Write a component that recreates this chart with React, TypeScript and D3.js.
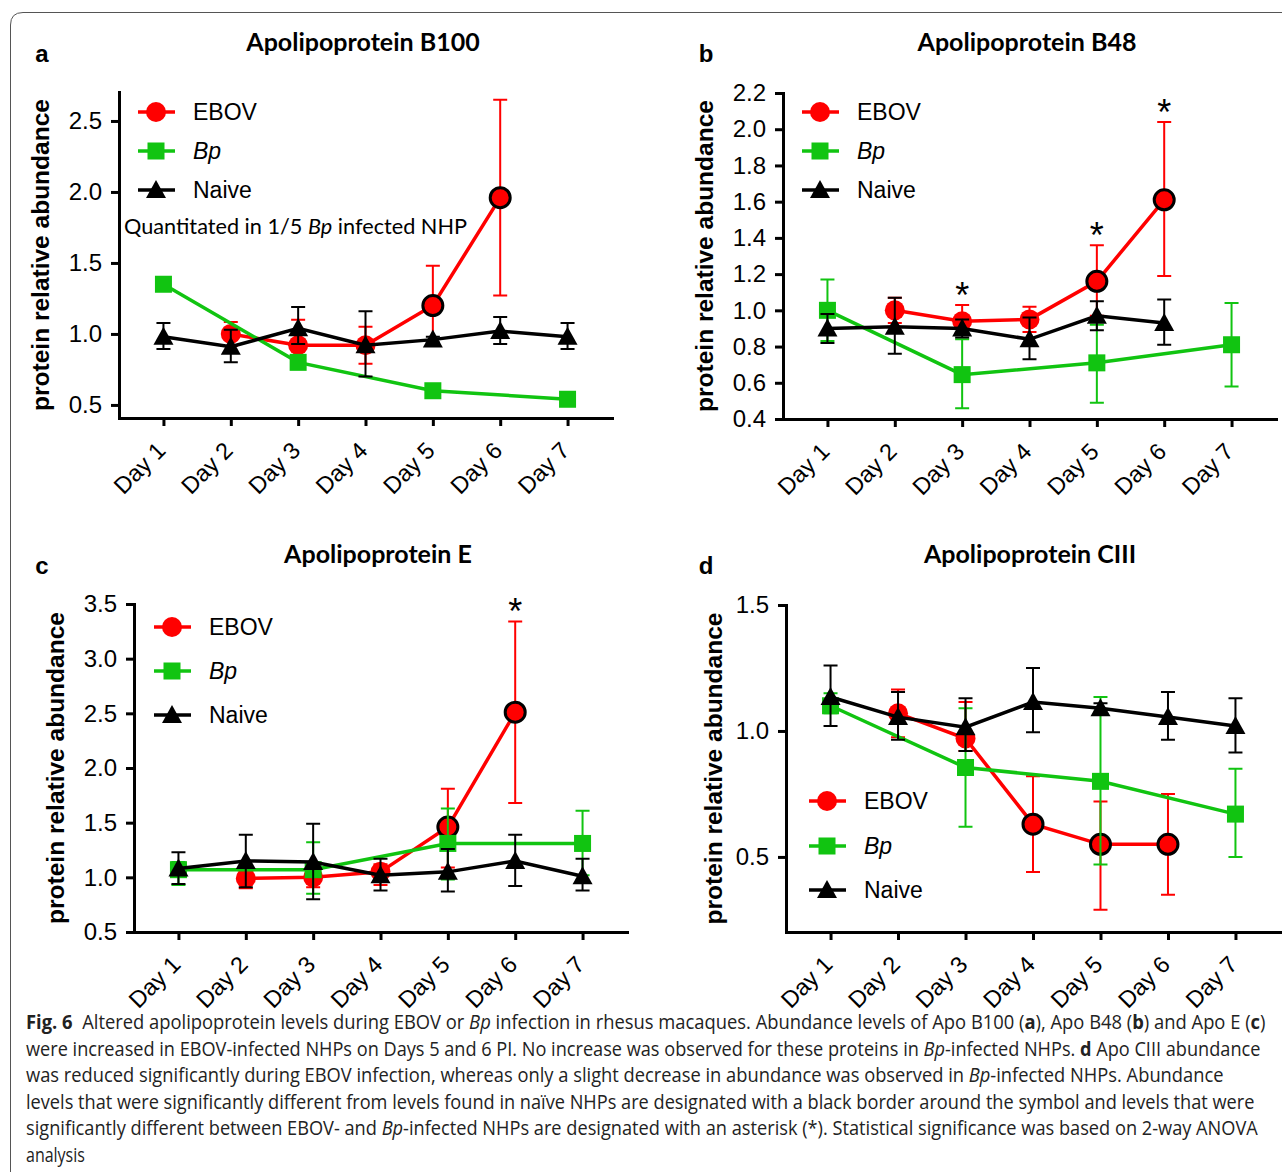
import React, { useEffect, useRef } from 'react';
import * as d3 from 'd3';

type V = number | null;

const days = ['Day 1', 'Day 2', 'Day 3', 'Day 4', 'Day 5', 'Day 6', 'Day 7'];
const seriesNames = ['EBOV', 'Bp', 'Naive'];

// Apolipoprotein B100
const b100Ebov: V[] = [null, 1.0, 0.92, 0.92, 1.2, 1.96, null];
const b100EbovHi: V[] = [null, 1.085, 1.1, 1.05, 1.48, 2.65, null];
const b100EbovLo: V[] = [null, 0.915, 0.9, 0.79, 0.92, 1.27, null];
const b100Bp: V[] = [1.35, null, 0.8, null, 0.6, null, 0.54];
const b100Naive: V[] = [0.98, 0.91, 1.04, 0.92, 0.96, 1.02, 0.98];
const b100NaiveHi: V[] = [1.077, 1.03, 1.19, 1.16, 0.98, 1.12, 1.077];
const b100NaiveLo: V[] = [0.894, 0.8, 0.93, 0.7, 0.94, 0.93, 0.894];
const b100Sig = [4, 5];
const b100Stars: number[] = [];

// Apolipoprotein B48
const b48Ebov: V[] = [null, 1.0, 0.94, 0.95, 1.16, 1.61, null];
const b48EbovHi: V[] = [null, 1.07, 1.03, 1.02, 1.36, 2.04, null];
const b48EbovLo: V[] = [null, 0.93, 0.87, 0.88, 0.97, 1.19, null];
const b48Bp: V[] = [1.0, null, 0.645, null, 0.71, null, 0.81];
const b48BpHi: V[] = [1.17, null, 0.84, null, 0.92, null, 1.04];
const b48BpLo: V[] = [0.83, null, 0.46, null, 0.49, null, 0.58];
const b48Naive: V[] = [0.9, 0.91, 0.9, 0.84, 0.97, 0.93, null];
const b48NaiveHi: V[] = [0.98, 1.07, 0.95, 0.96, 1.05, 1.06, null];
const b48NaiveLo: V[] = [0.82, 0.76, 0.85, 0.73, 0.89, 0.81, null];
const b48Sig = [4, 5];
const b48Stars = [2, 4, 5];

// Apolipoprotein E
const eEbov: V[] = [null, 0.99, 1.0, 1.05, 1.46, 2.51, null];
const eEbovHi: V[] = [null, 1.06, 1.08, 1.12, 1.81, 3.34, null];
const eEbovLo: V[] = [null, 0.9, 0.91, 0.93, 1.09, 1.68, null];
const eBp: V[] = [1.07, null, 1.07, null, 1.31, null, 1.31];
const eBpHi: V[] = [1.14, null, 1.32, null, 1.63, null, 1.61];
const eBpLo: V[] = [0.93, null, 0.85, null, 0.98, null, 1.02];
const eNaive: V[] = [1.08, 1.15, 1.14, 1.02, 1.05, 1.15, 1.01];
const eNaiveHi: V[] = [1.23, 1.39, 1.49, 1.17, 1.26, 1.39, 1.17];
const eNaiveLo: V[] = [0.94, 0.91, 0.8, 0.88, 0.87, 0.92, 0.88];
const eSig = [4, 5];
const eStars = [5];

// Apolipoprotein CIII
const c3Ebov: V[] = [null, 1.07, 0.97, 0.63, 0.55, 0.55, null];
const c3EbovHi: V[] = [null, 1.165, 1.115, 0.82, 0.72, 0.75, null];
const c3EbovLo: V[] = [null, 0.975, 0.92, 0.44, 0.29, 0.35, null];
const c3Bp: V[] = [1.1, null, 0.855, null, 0.8, null, 0.67];
const c3BpHi: V[] = [1.15, null, 1.09, null, 1.135, null, 0.85];
const c3BpLo: V[] = [1.07, null, 0.62, null, 0.47, null, 0.5];
const c3Naive: V[] = [1.135, 1.055, 1.015, 1.115, 1.09, 1.055, 1.02];
const c3NaiveHi: V[] = [1.26, 1.155, 1.13, 1.25, 1.11, 1.155, 1.13];
const c3NaiveLo: V[] = [1.02, 0.965, 0.92, 0.995, 1.07, 0.965, 0.915];
const c3Sig = [3, 4, 5];
const c3Stars: number[] = [];

const yLabel = 'protein relative abundance';

const captionLines: [string, string][][] = [
  [['b', 'Fig. 6'], ['n', '  Altered apolipoprotein levels during EBOV or '], ['i', 'Bp'], ['n', ' infection in rhesus macaques. Abundance levels of Apo B100 ('], ['b', 'a'], ['n', '), Apo B48 ('], ['b', 'b'], ['n', ') and Apo E ('], ['b', 'c'], ['n', ')']],
  [['n', 'were increased in EBOV-infected NHPs on Days 5 and 6 PI. No increase was observed for these proteins in '], ['i', 'Bp'], ['n', '-infected NHPs. '], ['b', 'd'], ['n', ' Apo CIII abundance']],
  [['n', 'was reduced significantly during EBOV infection, whereas only a slight decrease in abundance was observed in '], ['i', 'Bp'], ['n', '-infected NHPs. Abundance']],
  [['n', 'levels that were significantly different from levels found in naïve NHPs are designated with a black border around the symbol and levels that were']],
  [['n', 'significantly different between EBOV- and '], ['i', 'Bp'], ['n', '-infected NHPs are designated with an asterisk (*). Statistical significance was based on 2-way ANOVA']],
  [['n', 'analysis']],
];
const captionWidths = [1240, 1235, 1198, 1229, 1232, 64];

const RED = '#ff0000';
const GREEN = '#11c411';
const ARIAL = '"Liberation Sans", Arial, sans-serif';

const mkSeries = (ebov: V[], ebovHi: V[], ebovLo: V[], bp: V[], bpHi: V[] | null, bpLo: V[] | null, naive: V[], naiveHi: V[], naiveLo: V[], sig: number[]) => [
  { name: seriesNames[0], color: RED, shape: 'circle', values: ebov, hi: ebovHi, lo: ebovLo, sig },
  { name: seriesNames[1], color: GREEN, shape: 'square', values: bp, hi: bpHi, lo: bpLo, sig: [] as number[] },
  { name: seriesNames[2], color: '#000', shape: 'triangle', values: naive, hi: naiveHi, lo: naiveLo, sig: [] as number[] },
];

const panels = [
  {
    letter: 'a', title: 'Apolipoprotein B100', letterX: 42, titleX: 363, titleY: 51,
    x0: 119, x1: 612, yTop: 92, yBot: 418, domain: [0.408, 2.704], ticks: [0.5, 1.0, 1.5, 2.0, 2.5],
    labelX: 40, legX: 138, legY: [112, 151, 190], note: true,
    series: mkSeries(b100Ebov, b100EbovHi, b100EbovLo, b100Bp, null, null, b100Naive, b100NaiveHi, b100NaiveLo, b100Sig),
    stars: b100Stars,
  },
  {
    letter: 'b', title: 'Apolipoprotein B48', letterX: 706, titleX: 1027, titleY: 51,
    x0: 783, x1: 1276, yTop: 93, yBot: 419, domain: [0.4, 2.2], ticks: [0.4, 0.6, 0.8, 1.0, 1.2, 1.4, 1.6, 1.8, 2.0, 2.2],
    labelX: 704, legX: 802, legY: [112, 151, 190], note: false,
    series: mkSeries(b48Ebov, b48EbovHi, b48EbovLo, b48Bp, b48BpHi, b48BpLo, b48Naive, b48NaiveHi, b48NaiveLo, b48Sig),
    stars: b48Stars,
  },
  {
    letter: 'c', title: 'Apolipoprotein E', letterX: 42, titleX: 378, titleY: 563,
    x0: 134, x1: 627, yTop: 604, yBot: 932, domain: [0.5, 3.5], ticks: [0.5, 1.0, 1.5, 2.0, 2.5, 3.0, 3.5],
    labelX: 55, legX: 154, legY: [627, 671, 715], note: false,
    series: mkSeries(eEbov, eEbovHi, eEbovLo, eBp, eBpHi, eBpLo, eNaive, eNaiveHi, eNaiveLo, eSig),
    stars: eStars,
  },
  {
    letter: 'd', title: 'Apolipoprotein CIII', letterX: 706, titleX: 1030, titleY: 563,
    x0: 786, x1: 1280, yTop: 605, yBot: 932, domain: [0.202, 1.5], ticks: [0.5, 1.0, 1.5],
    labelX: 713, legX: 809, legY: [801, 846, 890], note: false,
    series: mkSeries(c3Ebov, c3EbovHi, c3EbovLo, c3Bp, c3BpHi, c3BpLo, c3Naive, c3NaiveHi, c3NaiveLo, c3Sig),
    stars: c3Stars,
  },
];

function drawMarker(g: any, shape: string, cx: number, cy: number, fill: string, border: boolean) {
  if (shape === 'circle') {
    g.append('circle').attr('cx', cx).attr('cy', cy).attr('r', 10)
      .attr('fill', fill).attr('stroke', border ? '#000' : 'none').attr('stroke-width', 3);
  } else if (shape === 'square') {
    g.append('rect').attr('x', cx - 8.5).attr('y', cy - 8.5).attr('width', 17).attr('height', 17).attr('fill', fill);
  } else {
    g.append('path').attr('d', `M${cx},${cy - 10}L${cx + 10},${cy + 8}L${cx - 10},${cy + 8}Z`).attr('fill', fill);
  }
}

function App() {
  const svgRef = useRef<SVGSVGElement>(null);

  useEffect(() => {
    const svg = d3.select(svgRef.current);
    svg.selectAll('*').remove();

    // figure frame
    svg.append('path').attr('d', 'M10.5,1172V25Q10.5,12.5 23,12.5H1282')
      .attr('fill', 'none').attr('stroke', '#555').attr('stroke-width', 1);

    panels.forEach(p => {
      const x = d3.scalePoint<string>().domain(days).range([p.x0, p.x1]).padding(0.66);
      const y = d3.scaleLinear().domain(p.domain).range([p.yBot, p.yTop]);
      const g = svg.append('g');

      g.append('text').text(p.letter).attr('x', p.letterX).attr('y', p.titleY + 11)
        .attr('text-anchor', 'middle').attr('font-family', ARIAL).attr('font-weight', 'bold').attr('font-size', 24);
      g.append('text').text(p.title).attr('x', p.titleX).attr('y', p.titleY)
        .attr('text-anchor', 'middle').attr('font-family', 'Lato, sans-serif').attr('font-weight', 'bold').attr('font-size', 25);

      // y axis
      const ya = g.append('g').attr('transform', `translate(${p.x0},0)`)
        .call(d3.axisLeft(y).tickValues(p.ticks).tickFormat(d3.format('.1f')).tickSize(8).tickSizeOuter(0).tickPadding(9));
      // x axis
      const xa = g.append('g').attr('transform', `translate(0,${p.yBot})`)
        .call(d3.axisBottom(x).tickSize(8).tickSizeOuter(0));
      [ya, xa].forEach(a => {
        a.select('.domain').attr('stroke-width', 3).attr('stroke-linecap', 'square');
        a.selectAll('.tick line').attr('stroke-width', 3);
        a.selectAll('text').attr('font-family', ARIAL).attr('font-size', 24).attr('fill', '#000');
      });
      xa.selectAll('text').attr('font-size', 23.5).attr('y', null).attr('dy', null)
        .attr('text-anchor', 'end').attr('transform', 'translate(3,34) rotate(-45)');

      g.append('text').text(yLabel)
        .attr('transform', `translate(${p.labelX + 9},${(p.yTop + p.yBot) / 2}) rotate(-90)`)
        .attr('text-anchor', 'middle').attr('font-family', ARIAL).attr('font-weight', 'bold').attr('font-size', 24.5);

      // series: error bars, line, markers
      p.series.forEach(s => {
        const pts = days.map((d, i) => ({ d, i, v: s.values[i] })).filter(q => q.v !== null) as { d: string; i: number; v: number }[];
        const sg = g.append('g');
        pts.forEach(q => {
          const hi = s.hi ? s.hi[q.i] : null;
          const lo = s.lo ? s.lo[q.i] : null;
          if (hi === null || lo === null) return;
          const cx = x(q.d)!;
          sg.append('path')
            .attr('d', `M${cx - 7},${y(hi)}H${cx + 7}M${cx},${y(hi)}V${y(lo)}M${cx - 7},${y(lo)}H${cx + 7}`)
            .attr('fill', 'none').attr('stroke', s.color).attr('stroke-width', 2);
        });
        const line = d3.line<{ d: string; v: number }>().x(q => x(q.d)!).y(q => y(q.v));
        sg.append('path').attr('d', line(pts)).attr('fill', 'none').attr('stroke', s.color).attr('stroke-width', 3.5);
        pts.forEach(q => drawMarker(sg, s.shape, x(q.d)!, y(q.v), s.color, s.sig.includes(q.i)));
      });

      // significance asterisks (EBOV vs Bp)
      p.stars.forEach(i => {
        const hi = p.series[0].hi![i] as number;
        g.append('text').text('*').attr('x', x(days[i])!).attr('y', y(hi) + 3)
          .attr('text-anchor', 'middle').attr('font-family', ARIAL).attr('font-size', 36);
      });

      // legend
      p.series.forEach((s, k) => {
        const ly = p.legY[k];
        g.append('line').attr('x1', p.legX).attr('x2', p.legX + 37).attr('y1', ly).attr('y2', ly)
          .attr('stroke', s.color).attr('stroke-width', 3.5);
        drawMarker(g, s.shape, p.legX + 18, ly, s.color, false);
        g.append('text').text(s.name).attr('x', p.legX + 55).attr('y', ly + 8)
          .attr('font-family', ARIAL).attr('font-size', 23)
          .attr('font-style', s.name === 'Bp' ? 'italic' : 'normal');
      });

      if (p.note) {
        const t = g.append('text').attr('x', 124).attr('y', 234)
          .attr('font-family', 'Lato, sans-serif').attr('font-size', 20.5)
          .attr('textLength', 343).attr('lengthAdjust', 'spacingAndGlyphs');
        t.append('tspan').text('Quantitated in 1/5 ');
        t.append('tspan').text('Bp').attr('font-style', 'italic');
        t.append('tspan').text(' infected NHP');
      }
    });

    // caption: each line squeezed horizontally to the reference width
    captionLines.forEach((segs, li) => {
      const t = svg.append('text').attr('x', 0).attr('y', 0)
        .attr('font-family', '"Open Sans", sans-serif').attr('font-size', 19.5)
        .attr('fill', '#222').style('white-space', 'pre');
      segs.forEach(([st, txt]) => {
        const ts = t.append('tspan').text(txt);
        if (st === 'b') ts.attr('font-weight', 'bold');
        if (st === 'i') ts.attr('font-style', 'italic');
      });
      const natural = (t.node() as SVGTextElement).getComputedTextLength() || 1;
      const sx = li === captionLines.length - 1 ? 0.82 : captionWidths[li] / natural;
      t.attr('transform', `translate(26,${1029 + li * 26.6}) scale(${sx},1)`);
    });
  }, []);

  return (
    <svg ref={svgRef} width={1282} height={1172}
      style={{ position: 'absolute', left: 0, top: 0, background: '#fff' }} />
  );
}

export default App;
